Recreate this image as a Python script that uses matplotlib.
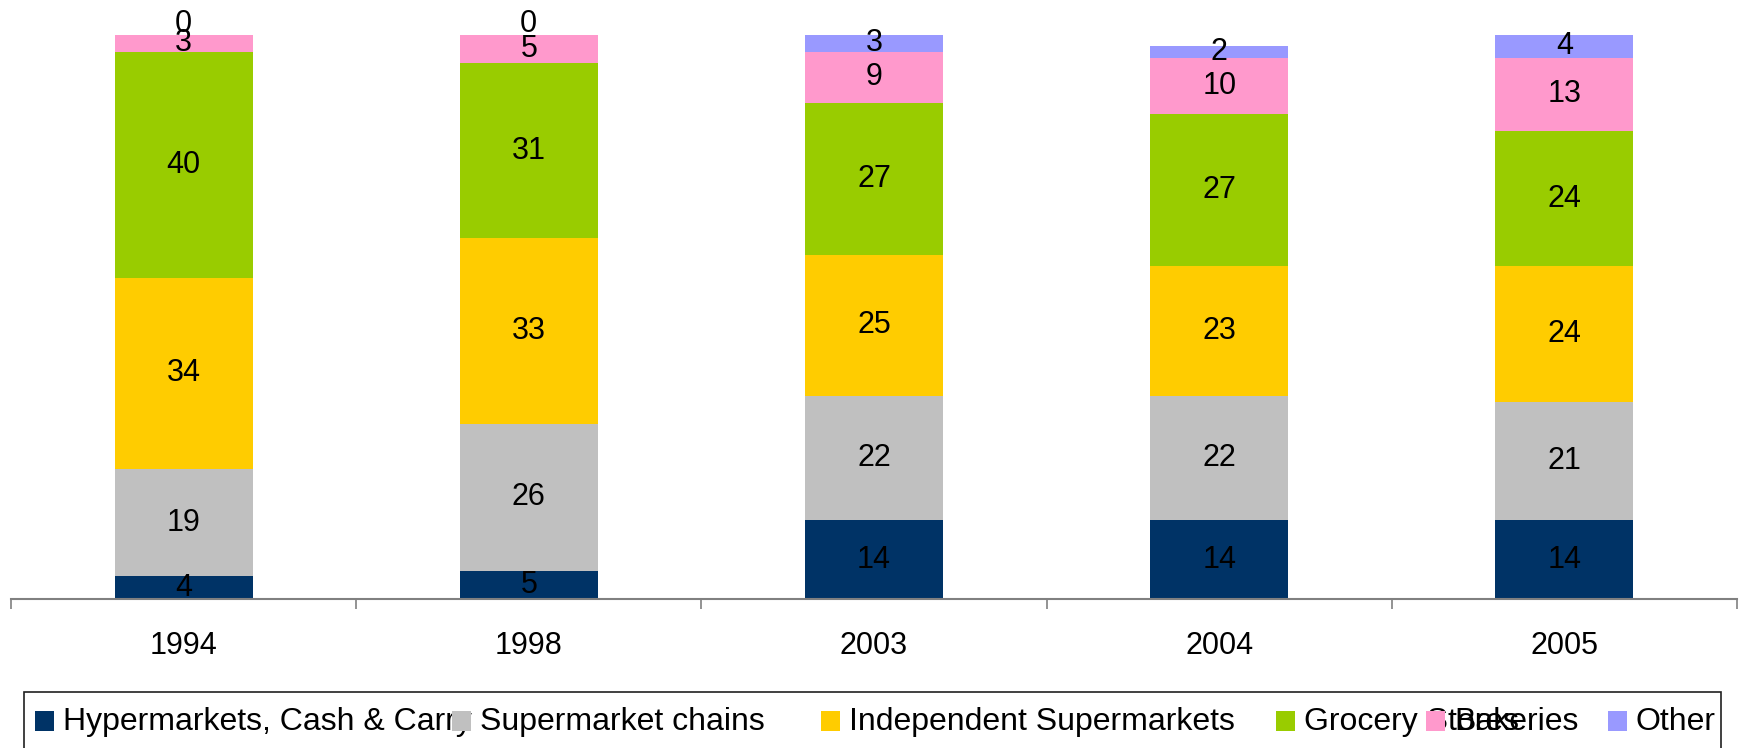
import numpy as np
import matplotlib
matplotlib.use('Agg')
from matplotlib import pyplot as plt
from matplotlib.patches import Rectangle

plt.rcParams['font.family'] = ['Liberation Sans', 'DejaVu Sans']

years = ['1994', '1998', '2003', '2004', '2005']
segments = ['Hypermarkets, Cash & Carry', 'Supermarket chains', 'Independent Supermarkets',
            'Grocery Stores', 'Bakeries', 'Other']
hypermarkets = [4, 5, 14, 14, 14]
supermarket_chains = [19, 26, 22, 22, 21]
independent = [34, 33, 25, 23, 24]
grocery = [40, 31, 27, 27, 24]
bakeries = [3, 5, 9, 10, 13]
other = [0, 0, 3, 2, 4]
colors = ['#003366', '#C0C0C0', '#FFCC00', '#99CC00', '#FF99CC', '#9999FF']

W, H = 1740, 748


def px(x, y):
    # pixel position (from top-left) to figure fraction
    return x / W, 1 - y / H


fig = plt.figure(figsize=(W / 100, H / 100), dpi=100)
ax = fig.add_axes([11 / W, 149 / H, (1737 - 11) / W, 564 / H])

series = [hypermarkets, supermarket_chains, independent, grocery, bakeries, other]
x = np.arange(len(years))
bottom = np.zeros(len(years))
for vals, color in zip(series, colors):
    vals = np.array(vals, dtype=float)
    ax.bar(x, vals, 0.4, bottom=bottom, color=color, linewidth=0)
    for xi, b, v in zip(x, bottom, vals):
        if v == 0:
            ax.annotate(f'{v:.0f}', (xi, b), xytext=(0, 2), textcoords='offset points',
                        ha='center', va='baseline', fontsize=22, color='black')
        else:
            ax.text(xi, b + v / 2, f'{v:.0f}', ha='center', va='center',
                    fontsize=22, color='black')
    bottom += vals

ax.set_xlim(-0.5, len(years) - 0.5)
ax.set_ylim(0, 100)
for s in ['top', 'right', 'left']:
    ax.spines[s].set_visible(False)
ax.spines['bottom'].set_color('#808080')
ax.spines['bottom'].set_linewidth(1.5)
ax.set_yticks([])
ax.set_xticks(np.arange(-0.5, len(years), 1))
ax.set_xticklabels([])
ax.tick_params(axis='x', which='major', length=7, width=1.2, color='#808080')
ax.set_xticks(x, minor=True)
ax.set_xticklabels(years, minor=True, fontsize=22)
ax.tick_params(axis='x', which='minor', length=0, pad=23)

# legend box drawn by hand to keep the original spacing (bottom edge runs off the image)
x0, y0 = px(24, 692)
x1, y1 = px(1721, 820)
fig.add_artist(Rectangle((x0, y1), x1 - x0, y0 - y1, transform=fig.transFigure,
                         facecolor='white', edgecolor='#202020', linewidth=1.2,
                         clip_on=False, zorder=0))
marker_left = [35, 452, 821, 1276, 1426, 1608]
for left, name in zip(marker_left, segments):
    tx, ty = px(left + 28, 730)
    fig.text(tx, ty, name, ha='left', va='baseline', fontsize=23, color='black', zorder=3)
for left, color in zip(marker_left, colors):
    mx, my = px(left, 731)
    fig.add_artist(Rectangle((mx, my), 19 / W, 20 / H, transform=fig.transFigure,
                             facecolor=color, edgecolor='none', zorder=5))

fig.savefig('out.png', dpi=100)
